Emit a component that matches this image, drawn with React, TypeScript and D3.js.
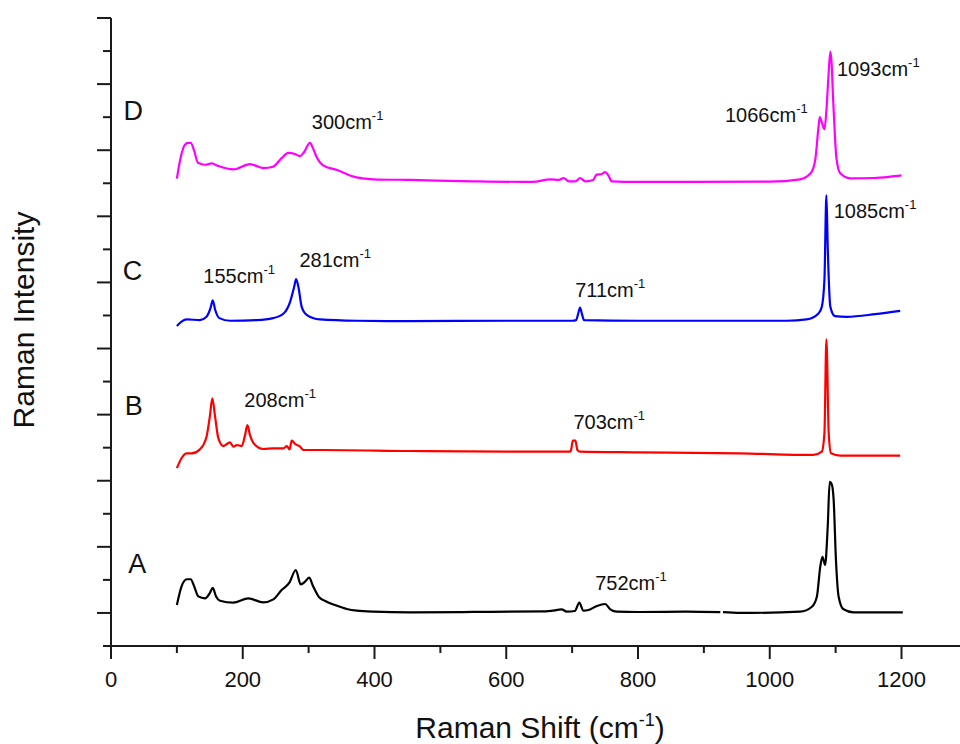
import React from 'react';
import * as d3 from 'd3';

const W = 960;
const H = 744;

// Axis ticks
const xMajorTicks = [0, 200, 400, 600, 800, 1000, 1200];
const xMinorTicks = [100, 300, 500, 700, 900, 1100];
const yMajorTicks = [0, 100, 200, 300, 400, 500, 600, 700, 800, 900];
const yMinorTicks = [-50, 50, 150, 250, 350, 450, 550, 650, 750, 850];

// Spectra: [Raman shift (cm-1), intensity (a.u., stacked with offset)]
const spectrumA: [number, number][] = [
  [100, 12], [107, 40], [115, 51], [121, 51], [126, 41], [132.6, 25], [142.7, 22], [150, 30],
  [154.4, 38], [159.5, 25], [165.5, 18.5], [185.7, 15.5], [208.5, 22], [231, 16], [246.5, 20.6],
  [259, 34.7], [270.8, 45.8], [280.5, 65], [288, 43.3], [294.6, 47.3], [300.7, 53.3], [307, 40],
  [316, 23.7], [327.5, 17], [340, 12], [358, 6], [373, 3.4], [398, 1.9], [454, 1], [550, 1.5],
  [660, 2.5], [670, 3.4], [684, 5.5], [692, 2], [704, 3], [711, 15.5], [717, 3.4], [725, 4.5],
  [737.5, 10.5], [750, 13.5], [758, 5.5], [768, 1.9], [800, 1.4], [874, 2], [925, 1.2],
  [927, NaN],
  [929, 1.2], [955, 0], [1046, 1.9], [1064, 9.4], [1071.6, 25], [1076.7, 70], [1080, 85],
  [1084, 72.5], [1088, 130.5], [1091, 198.5], [1094.5, 193.5], [1097, 171], [1100.5, 80],
  [1104.5, 25], [1112, 5.5], [1127, 1], [1202, 1],
];

const spectrumB: [number, number][] = [
  [100, 219], [107, 234], [115, 241.5], [122.5, 241.5], [135, 247.5], [145, 266.6], [150, 297],
  [153.8, 324.7], [158, 297], [163, 264], [170.5, 252.5], [180.7, 258], [185.7, 251.5], [191, 254],
  [198.5, 252.5], [203.5, 269], [207, 284], [211, 269], [218.7, 254], [231, 248], [246.5, 249],
  [261.7, 249], [267, 252.5], [271, 247.5], [274.4, 260.6], [279.5, 255.6], [287, 251.5],
  [292, 246.5], [322, 246.5], [454, 245], [600, 244], [695, 244], [698, 245], [701, 260.6],
  [705, 260.6], [708, 246.5], [712, 244], [800, 243], [955, 241.5], [1066, 239], [1079, 244],
  [1083, 272], [1086, 414], [1089.5, 272], [1093, 241.5], [1107, 238], [1198, 238],
];

const spectrumC: [number, number][] = [
  [100, 434], [107, 440.6], [115, 444], [135, 443], [145, 448], [151, 461], [154.5, 473],
  [158, 459], [164.5, 446], [181, 442], [221, 443], [246, 446], [262, 453], [272, 471],
  [278, 493], [281, 505], [284.5, 493], [289.5, 463], [297, 451], [317, 444], [373, 442],
  [454, 441.5], [600, 442], [700, 442], [706, 443], [709, 452], [712, 462], [715, 452],
  [718, 443], [800, 442], [1026, 442], [1056, 444], [1074, 453], [1079, 463], [1083, 504],
  [1086, 632], [1088, 554], [1092, 463], [1099, 449], [1117, 448], [1160, 452], [1198, 457],
];

const spectrumD: [number, number][] = [
  [100, 657], [106, 690], [112, 708], [117, 711], [121, 711], [126, 700], [132, 681], [143, 678],
  [153, 680], [163, 676], [186, 671], [211, 679], [231, 673], [246, 675], [259, 688], [269, 696],
  [280, 694], [287, 691], [293, 697], [302, 711], [307, 702], [312, 690], [322, 677], [343, 670],
  [368, 660], [398, 656], [454, 655], [550, 653], [640, 652], [667, 656], [680, 655], [687, 658],
  [695, 653], [705, 653], [712, 658], [720, 653], [732, 655], [737, 663], [745, 664], [750, 667],
  [755, 662], [760, 653], [800, 652], [1000, 652.5], [1046, 656], [1062, 665], [1069, 685],
  [1074, 735], [1076, 750], [1079, 742], [1083, 732], [1086, 760], [1089, 810], [1092, 849],
  [1094, 830], [1096, 781], [1099, 720], [1101, 690], [1107, 665], [1122, 657.5], [1158, 658],
  [1183, 660], [1200, 662],
];

const seriesNames = ['A', 'B', 'C', 'D'];
const seriesColors = ['#000000', '#ff0000', '#0000ff', '#ff00ff'];
const seriesData = [spectrumA, spectrumB, spectrumC, spectrumD];
// series letter anchors [shift, intensity]
const seriesLabelPos: [number, number][] = [[26, 61], [21, 299], [18, 503], [19, 745]];

// peak annotations: label, anchor shift, anchor intensity
const peakLabels = ['300', '155', '281', '208', '711', '703', '752', '1085', '1093', '1066'];
const peakLabelX = [304.8, 140.2, 286, 202.4, 704.6, 702, 735, 1097, 1102, 932];
const peakLabelY = [731.6, 498.7, 522.9, 312, 477.5, 277.8, 34.7, 597.7, 812.2, 742.2];

const FONT = 'Arial, "Liberation Sans", Helvetica, sans-serif';

export default function App() {
  const x = d3.scaleLinear().domain([0, 1200]).range([111, 901.5]);
  const y = d3.scaleLinear().domain([-50, 900]).range([646, 18]);

  const line = d3
    .line<[number, number]>()
    .defined((d) => !isNaN(d[1]))
    .x((d) => x(d[0]))
    .y((d) => y(d[1]))
    .curve(d3.curveMonotoneX);

  const axisColor = '#1a1a1a';
  const x0 = x(0);
  const yBottom = y(-50);
  const yTop = y(900);

  return (
    <svg
      width={W}
      height={H}
      style={{ position: 'absolute', left: 0, top: 0, background: '#fff' }}
      fontFamily={FONT}
    >
      <rect x={0} y={0} width={W} height={H} fill="#fff" />
      {/* spectra */}
      {seriesData.map((s, i) => (
        <path
          key={seriesNames[i]}
          d={line(s) || ''}
          fill="none"
          stroke={seriesColors[i]}
          strokeWidth={2.2}
          strokeLinejoin="round"
        />
      ))}

      {/* axes */}
      <line x1={x0} y1={yBottom} x2={W} y2={yBottom} stroke={axisColor} strokeWidth={2} />
      <line x1={x0} y1={yBottom + 1} x2={x0} y2={yTop} stroke={axisColor} strokeWidth={2} />
      {xMajorTicks.map((t) => (
        <g key={'xM' + t}>
          <line x1={x(t)} x2={x(t)} y1={yBottom} y2={yBottom + 13} stroke={axisColor} strokeWidth={2} />
          <text x={x(t)} y={yBottom + 41} textAnchor="middle" fontSize={22} fill="#111">
            {t}
          </text>
        </g>
      ))}
      {xMinorTicks.map((t) => (
        <line key={'xm' + t} x1={x(t)} x2={x(t)} y1={yBottom} y2={yBottom + 7} stroke={axisColor} strokeWidth={2} />
      ))}
      {yMajorTicks.map((t) => (
        <line key={'yM' + t} x1={x0 - 14} x2={x0} y1={y(t)} y2={y(t)} stroke={axisColor} strokeWidth={2} />
      ))}
      {yMinorTicks.map((t) => (
        <line key={'ym' + t} x1={x0 - 8} x2={x0} y1={y(t)} y2={y(t)} stroke={axisColor} strokeWidth={2} />
      ))}

      {/* axis titles */}
      <text x={540} y={738} textAnchor="middle" fontSize={30} fill="#111">
        Raman Shift (cm
        <tspan fontSize={18} dy={-12}>-1</tspan>
        <tspan dy={12}>)</tspan>
      </text>
      <text
        transform={`translate(34,320) rotate(-90)`}
        textAnchor="middle"
        fontSize={30}
        fill="#111"
      >
        Raman Intensity
      </text>

      {/* series letters */}
      {seriesNames.map((n, i) => (
        <text key={'L' + n} x={x(seriesLabelPos[i][0])} y={y(seriesLabelPos[i][1])} fontSize={27} fill="#111">
          {n}
        </text>
      ))}

      {/* peak annotations */}
      {peakLabels.map((p, i) => (
        <text key={'P' + p} x={x(peakLabelX[i])} y={y(peakLabelY[i])} fontSize={20} fill="#111">
          {p}cm
          <tspan fontSize={13} dy={-9}>-1</tspan>
        </text>
      ))}
    </svg>
  );
}
